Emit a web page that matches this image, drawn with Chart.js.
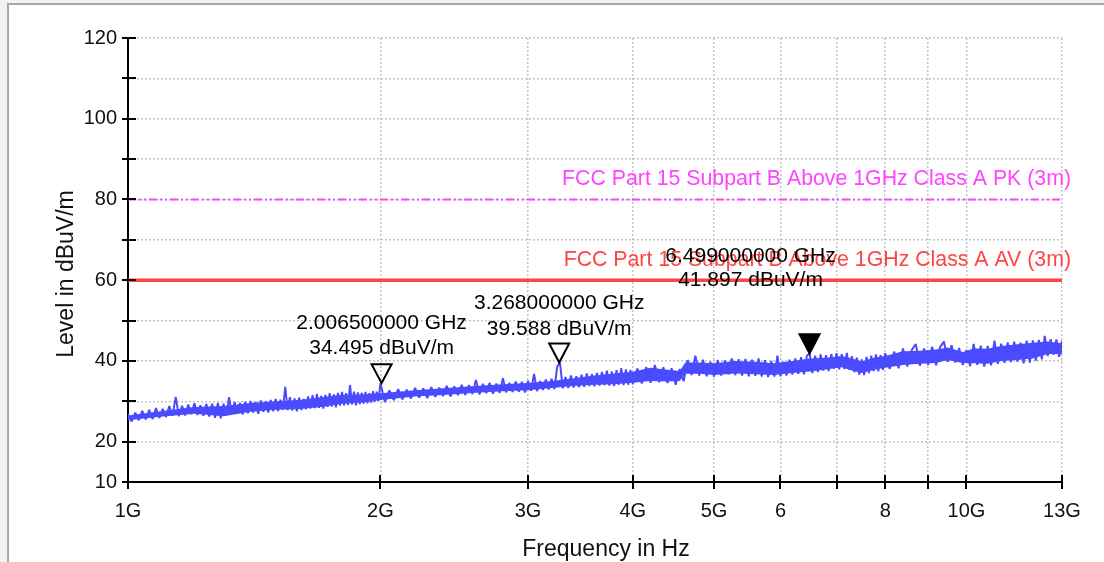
<!DOCTYPE html>
<html>
<head>
<meta charset="utf-8">
<script src="https://cdn.jsdelivr.net/npm/chart.js@4/dist/chart.umd.min.js"></script>
<style>
    html, body { margin: 0; padding: 0; background: #fff; }
    #wrap { width: 1104px; height: 562px; }
</style>
</head>
<body>
<div id="wrap"><canvas id="emiChart" width="1104" height="562"></canvas></div>
<script>
const freqGHz = [
    1.00, 1.01, 1.02, 1.03, 1.04, 1.05, 1.06, 1.07, 1.08, 1.09, 1.10, 1.11, 1.12, 1.13, 1.14, 1.15,
    1.16, 1.17, 1.18, 1.19, 1.20, 1.21, 1.22, 1.23, 1.24, 1.25, 1.26, 1.27, 1.28, 1.29, 1.30, 1.31,
    1.32, 1.33, 1.34, 1.35, 1.36, 1.37, 1.38, 1.39, 1.40, 1.41, 1.42, 1.43, 1.44, 1.45, 1.46, 1.47,
    1.48, 1.49, 1.50, 1.51, 1.52, 1.53, 1.54, 1.55, 1.56, 1.57, 1.58, 1.59, 1.60, 1.61, 1.62, 1.63,
    1.64, 1.65, 1.66, 1.67, 1.68, 1.69, 1.70, 1.71, 1.72, 1.73, 1.74, 1.75, 1.76, 1.77, 1.78, 1.79,
    1.80, 1.81, 1.82, 1.83, 1.84, 1.85, 1.86, 1.87, 1.88, 1.89, 1.90, 1.91, 1.92, 1.93, 1.94, 1.95,
    1.96, 1.97, 1.98, 1.99, 2.00,
    2.025, 2.050, 2.075, 2.100, 2.125, 2.150, 2.175, 2.200, 2.225, 2.250, 2.275, 2.300, 2.325, 2.350,
    2.375, 2.400, 2.425, 2.450, 2.475, 2.500, 2.525, 2.550, 2.575, 2.600, 2.625, 2.650, 2.675, 2.700,
    2.725, 2.750, 2.775, 2.800, 2.825, 2.850, 2.875, 2.900, 2.925, 2.950, 2.975, 3.000, 3.025, 3.050,
    3.075, 3.100, 3.125, 3.150, 3.175, 3.200, 3.225, 3.250, 3.275, 3.300, 3.325, 3.350, 3.375, 3.400,
    3.425, 3.450, 3.475, 3.500, 3.525, 3.550, 3.575, 3.600, 3.625, 3.650, 3.675, 3.700, 3.725, 3.750,
    3.775, 3.800, 3.825, 3.850, 3.875, 3.900, 3.925, 3.950, 3.975, 4.000,
    4.05, 4.10, 4.15, 4.20, 4.25, 4.30, 4.35, 4.40, 4.45, 4.50, 4.55, 4.60, 4.65, 4.70, 4.75, 4.80,
    4.85, 4.90, 4.95, 5.00, 5.05, 5.10, 5.15, 5.20, 5.25, 5.30, 5.35, 5.40, 5.45, 5.50, 5.55, 5.60,
    5.65, 5.70, 5.75, 5.80, 5.85, 5.90, 5.95, 6.00, 6.05, 6.10, 6.15, 6.20, 6.25, 6.30, 6.35, 6.40,
    6.45, 6.50, 6.55, 6.60, 6.65, 6.70, 6.75, 6.80, 6.85, 6.90, 6.95, 7.00, 7.05, 7.10, 7.15, 7.20,
    7.25, 7.30, 7.35, 7.40, 7.45, 7.50, 7.55, 7.60, 7.65, 7.70, 7.75, 7.80, 7.85, 7.90, 7.95, 8.00,
    8.1, 8.2, 8.3, 8.4, 8.5, 8.6, 8.7, 8.8, 8.9, 9.0, 9.1, 9.2, 9.3, 9.4, 9.5, 9.6, 9.7, 9.8, 9.9,
    10.0, 10.1, 10.2, 10.3, 10.4, 10.5, 10.6, 10.7, 10.8, 10.9, 11.0, 11.1, 11.2, 11.3, 11.4, 11.5,
    11.6, 11.7, 11.8, 11.9, 12.0, 12.1, 12.2, 12.3, 12.4, 12.5, 12.6, 12.7, 12.8, 12.9, 13.0
];
const levelDb = [
    26.8, 25.0, 27.2, 25.3, 27.6, 25.5, 27.9, 25.6, 28.3, 25.9, 28.1, 26.1, 28.8, 26.4, 31.1, 26.3,
    28.9, 26.5, 29.2, 26.8, 29.5, 26.6, 29.0, 26.4, 29.3, 26.2, 29.4, 25.9, 29.6, 25.8, 29.4, 26.5,
    31.0, 26.9, 29.8, 26.9, 29.6, 26.7, 29.9, 27.0, 30.1, 27.2, 29.8, 26.9, 30.2, 27.4, 30.0, 27.2,
    30.3, 27.5, 30.6, 27.6, 30.4, 27.9, 33.6, 27.8, 31.0, 27.7, 30.7, 27.5, 30.9, 27.8, 30.6, 28.0,
    31.2, 28.2, 31.5, 28.3, 31.8, 28.4, 31.3, 28.2, 31.6, 28.6, 32.0, 28.7, 31.7, 28.5, 32.1, 28.9,
    32.3, 29.0, 32.0, 29.1, 34.0, 29.2, 32.4, 29.0, 32.2, 29.3, 32.1, 29.4, 32.3, 29.5, 32.0, 29.7,
    32.5, 29.9, 32.4, 30.1, 34.5,
    29.8, 32.7, 30.3, 33.0, 30.5, 32.9, 30.7, 33.3, 30.9, 33.2, 30.8, 33.5, 31.1, 33.4,
    31.3, 33.8, 31.2, 33.7, 31.5, 34.1, 31.6, 34.0, 31.8, 35.3, 31.7, 34.3, 32.0, 34.6,
    31.9, 34.4, 32.1, 35.7, 32.2, 34.6, 32.3, 34.9, 32.4, 34.8, 32.2, 35.1, 32.6, 36.8,
    32.5, 35.0, 32.8, 35.4, 32.9, 35.6, 33.0, 38.6, 39.6, 33.2, 36.0, 33.3, 36.4, 33.4,
    36.2, 33.5, 36.6, 33.6, 36.9, 33.8, 36.7, 33.7, 37.0, 33.9, 37.3, 34.0, 37.6, 33.9,
    37.4, 33.8, 37.7, 34.1, 38.2, 34.0, 37.9, 34.1, 37.7, 34.2,
    38.1, 34.4, 38.5, 34.6, 39.0, 34.7, 38.4, 34.5, 38.2, 34.1, 38.0, 35.0, 40.2, 36.5, 41.3, 36.4,
    40.3, 36.2, 39.8, 36.1, 40.2, 36.4, 40.1, 36.6, 40.6, 36.5, 40.4, 36.4, 40.5, 36.2, 40.3, 36.3,
    40.6, 36.1, 40.2, 36.0, 40.0, 36.1, 41.3, 36.2, 39.8, 36.4, 40.3, 36.6, 40.6, 36.8, 40.9, 36.7,
    41.2, 41.9, 37.0, 41.3, 37.2, 41.6, 37.6, 41.4, 37.5, 41.7, 38.1, 41.9, 37.9, 41.7, 38.0, 42.0,
    37.8, 41.2, 37.2, 40.8, 36.6, 40.4, 36.5, 41.0, 37.0, 41.3, 37.5, 41.6, 37.4, 41.4, 37.8, 41.9,
    38.0, 42.3, 38.2, 43.1, 38.6, 42.6, 44.2, 38.8, 43.1, 39.0, 43.5, 38.9, 43.4, 44.8, 39.8, 43.9, 39.6, 43.2, 39.0,
    42.7, 38.7, 44.2, 39.0, 43.8, 38.6, 43.7, 38.9, 45.0, 39.3, 44.3, 39.5, 44.6, 39.7, 44.8, 39.8,
    44.5, 39.4, 45.0, 39.6, 45.1, 40.1, 45.2, 40.4, 46.2, 41.2, 45.4, 41.5, 45.3, 41.0, 45.0
];

// solid core of the noise band (where the trace is dense)
const coreFreqGHz = [
    1.0, 1.1, 1.2, 1.3, 1.4, 1.5, 1.6, 1.7, 1.8, 1.9, 2.0, 2.2, 2.4, 2.6, 2.8, 3.0, 3.2, 3.4, 3.6,
    3.8, 4.0, 4.2, 4.4, 4.55, 4.62, 4.8, 5.0, 5.3, 5.6, 5.9, 6.2, 6.5, 6.8, 7.1, 7.3, 7.5, 7.8, 8.0,
    8.4, 8.8, 9.2, 9.5, 9.9, 10.2, 10.6, 11.0, 11.5, 12.0, 12.5, 13.0
];
const coreTop = [
    26.5, 27.6, 28.6, 28.8, 29.6, 30.0, 30.3, 31.0, 31.6, 31.7, 32.0, 32.7, 33.3, 33.8, 34.2, 34.5,
    35.0, 35.7, 36.4, 36.9, 37.3, 38.3, 37.8, 37.5, 39.6, 39.6, 39.4, 40.0, 39.8, 39.4, 40.0, 40.6,
    40.8, 41.2, 40.6, 39.9, 40.9, 41.2, 42.4, 42.5, 42.8, 43.3, 42.2, 43.1, 43.0, 43.7, 44.1, 44.5,
    44.8, 44.4
];
const coreBottom = [
    25.3, 26.2, 26.9, 26.3, 27.4, 27.9, 28.1, 28.6, 29.4, 29.7, 30.3, 31.2, 31.6, 32.1, 32.5, 32.7,
    33.3, 33.8, 34.1, 34.2, 34.6, 35.0, 34.9, 35.0, 36.8, 36.8, 36.5, 36.9, 36.7, 36.5, 37.0, 37.4,
    37.9, 38.4, 37.6, 37.0, 37.9, 38.3, 39.0, 39.3, 39.5, 40.2, 39.5, 39.4, 39.3, 40.0, 40.2, 40.6,
    41.7, 41.7
];

const xTickValues = [1, 2, 3, 4, 5, 6, 7, 8, 9, 10, 13];
const xTickLabels = ['1G', '2G', '3G', '4G', '5G', '6', '', '8', '', '10G', '13G'];
const yTickValues = [10, 20, 30, 40, 50, 60, 70, 80, 90, 100, 110, 120];
const yTickLabels = ['10', '20', '', '40', '', '60', '', '80', '', '100', '', '120'];

const limitNames = [
    'FCC Part 15 Subpart B Above 1GHz Class A PK (3m)',
    'FCC Part 15 Subpart B Above 1GHz Class A AV (3m)'
];
const limitLevels = [80, 60];

const markerFreqGHz = [2.0065, 3.268, 6.499];
const markerLevels = [34.495, 39.588, 41.897];
const markerFreqText = ['2.006500000 GHz', '3.268000000 GHz', '6.499000000 GHz'];
const markerLevelText = ['34.495 dBuV/m', '39.588 dBuV/m', '41.897 dBuV/m'];

const FONT = '"Liberation Sans", Arial, sans-serif';
const TRACE_BLUE = '#4a4aff';
const PK_COLOR = '#ff44ff';
const AV_COLOR = '#ff4444';

// how each marker label sits relative to its triangle tip
const markerLook = [
    { filled: false, dx: 0, dy1: -60, dy2: -35 },
    { filled: false, dx: 0, dy1: -59, dy2: -33 },
    { filled: true, dx: -59, dy1: -97, dy2: -73 }
];

function toPoints(xs, ys) {
    return xs.map((x, i) => ({ x: x, y: ys[i] }));
}

const overlayPlugin = {
    id: 'overlay',
    beforeDraw(chart) {
        const ctx = chart.ctx;
        ctx.save();
        ctx.fillStyle = '#f2f2f2';
        ctx.fillRect(0, 0, chart.width, 3);
        ctx.fillRect(0, 0, 7, chart.height);
        ctx.strokeStyle = '#a8a8a8';
        ctx.lineWidth = 2;
        ctx.beginPath();
        ctx.moveTo(8, chart.height);
        ctx.lineTo(8, 4);
        ctx.lineTo(chart.width, 4);
        ctx.stroke();
        ctx.restore();
    },
    afterDraw(chart) {
        const ctx = chart.ctx;
        const xs = chart.scales.x;
        const ys = chart.scales.y;
        const area = chart.chartArea;
        ctx.save();

        // tick marks crossing the axes
        ctx.strokeStyle = '#000';
        ctx.lineWidth = 2;
        ctx.beginPath();
        yTickValues.forEach(v => {
            const py = Math.round(ys.getPixelForValue(v));
            ctx.moveTo(area.left - 6, py);
            ctx.lineTo(area.left + 8, py);
        });
        xTickValues.forEach(v => {
            const px = Math.round(xs.getPixelForValue(v));
            ctx.moveTo(px, area.bottom - 7);
            ctx.lineTo(px, area.bottom + 7);
        });
        ctx.stroke();

        // limit line names
        ctx.font = '21.3px ' + FONT;
        ctx.textAlign = 'right';
        ctx.textBaseline = 'middle';
        [PK_COLOR, AV_COLOR].forEach((c, i) => {
            ctx.fillStyle = c;
            ctx.fillText(limitNames[i], area.right + 9, ys.getPixelForValue(limitLevels[i]) - 20);
        });

        // markers
        markerFreqGHz.forEach((f, i) => {
            const look = markerLook[i];
            const px = xs.getPixelForValue(f);
            const py = ys.getPixelForValue(markerLevels[i]);
            ctx.beginPath();
            ctx.moveTo(px, py);
            ctx.lineTo(px - 10, py - 19);
            ctx.lineTo(px + 10, py - 19);
            ctx.closePath();
            ctx.lineWidth = 2;
            ctx.strokeStyle = '#000';
            ctx.stroke();
            if (look.filled) {
                ctx.fillStyle = '#000';
                ctx.fill();
            }
            ctx.fillStyle = '#000';
            ctx.textAlign = 'center';
            ctx.textBaseline = 'middle';
            ctx.font = '21px ' + FONT;
            ctx.fillText(markerFreqText[i], px + look.dx, py + look.dy1);
            ctx.fillText(markerLevelText[i], px + look.dx, py + look.dy2);
        });

        // axis titles
        ctx.fillStyle = '#111';
        ctx.font = '23px ' + FONT;
        ctx.textAlign = 'center';
        ctx.textBaseline = 'alphabetic';
        ctx.fillText('Frequency in Hz', 606, 556);
        ctx.translate(73, 274);
        ctx.rotate(-Math.PI / 2);
        ctx.fillText('Level in dBuV/m', 0, 0);
        ctx.restore();
    }
};

const gridLines = {
    color: '#c4c4c4',
    lineWidth: 1.5,
    drawTicks: false,
    tickLength: 0
};

new Chart(document.getElementById('emiChart'), {
    type: 'line',
    data: {
        datasets: [
            {
                data: toPoints(coreFreqGHz, coreTop),
                borderWidth: 0,
                pointRadius: 0,
                fill: false
            },
            {
                data: toPoints(coreFreqGHz, coreBottom),
                borderWidth: 0,
                backgroundColor: TRACE_BLUE,
                pointRadius: 0,
                fill: '-1'
            },
            {
                data: toPoints(freqGHz, levelDb),
                borderColor: TRACE_BLUE,
                borderWidth: 2,
                borderJoinStyle: 'bevel',
                pointRadius: 0,
                fill: false
            },
            {
                data: toPoints([1, 13], [limitLevels[0], limitLevels[0]]),
                borderColor: PK_COLOR,
                borderWidth: 2,
                borderDash: [8, 3, 2, 3, 2, 3],
                pointRadius: 0,
                fill: false
            },
            {
                data: toPoints([1, 13], [limitLevels[1], limitLevels[1]]),
                borderColor: AV_COLOR,
                borderWidth: 3.5,
                pointRadius: 0,
                fill: false
            }
        ]
    },
    options: {
        responsive: false,
        animation: false,
        devicePixelRatio: 1,
        layout: { padding: { top: 38, right: 42, left: 0, bottom: 0 } },
        plugins: {
            legend: { display: false },
            tooltip: { enabled: false }
        },
        scales: {
            x: {
                type: 'logarithmic',
                min: 1,
                max: 13,
                afterBuildTicks: scale => {
                    scale.ticks = xTickValues.map(v => ({ value: v }));
                },
                afterFit: scale => { scale.height = 80; },
                grid: gridLines,
                border: { color: '#000', width: 2, dash: [2, 2] },
                ticks: {
                    autoSkip: false,
                    maxRotation: 0,
                    padding: 17,
                    color: '#111',
                    font: { family: FONT, size: 20 },
                    callback: (value, index) => xTickLabels[index]
                }
            },
            y: {
                type: 'linear',
                min: 10,
                max: 120,
                afterBuildTicks: scale => {
                    scale.ticks = yTickValues.map(v => ({ value: v }));
                },
                afterFit: scale => { scale.width = 128; },
                grid: gridLines,
                border: { color: '#000', width: 2, dash: [2, 2] },
                ticks: {
                    padding: 11,
                    color: '#111',
                    font: { family: FONT, size: 20 },
                    callback: (value, index) => yTickLabels[index]
                }
            }
        }
    },
    plugins: [overlayPlugin]
});
</script>
</body>
</html>
